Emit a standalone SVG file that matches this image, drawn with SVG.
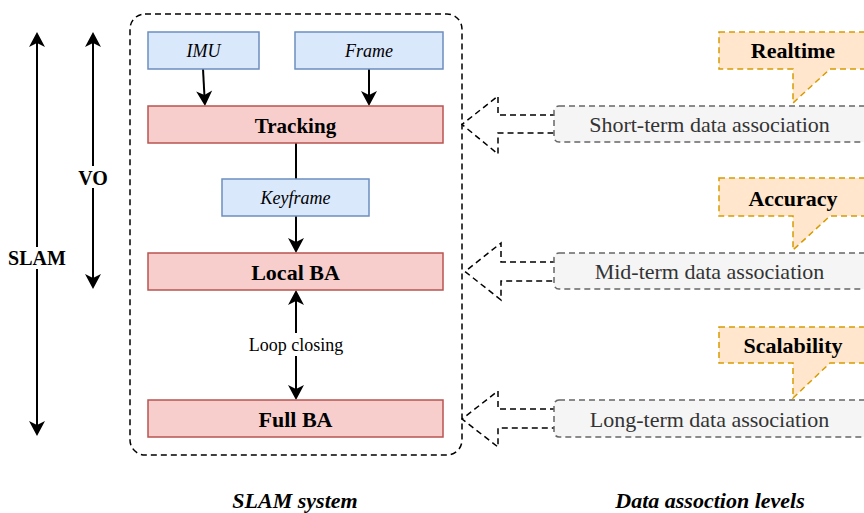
<svg xmlns="http://www.w3.org/2000/svg" width="864" height="513" viewBox="0 0 864 513">
<defs>
<style>
.blue{fill:#dae8fc;stroke:#6c8ebf;stroke-width:1.5}
.red{fill:#f8cecc;stroke:#b85450;stroke-width:1.5}
.gray{fill:#f5f5f5;stroke:#666666;stroke-width:1.5;stroke-dasharray:6 4}
.call{fill:#ffe6cc;stroke:#d79b00;stroke-width:1.5;stroke-dasharray:6 4}
.blk{fill:#ffffff;stroke:#000000;stroke-width:1.5;stroke-dasharray:6 4}
.ln{fill:none;stroke:#000000;stroke-width:2}
.t{font-family:"Liberation Serif","Times New Roman",serif;text-anchor:middle;fill:#000}
.it{font-style:italic;font-size:18px}
.bd{font-weight:bold;font-size:22px}
.gt{font-size:22px;fill:#333333}
.bg{fill:#ffffff;stroke:none}
</style>
<marker id="ah" viewBox="-5 -9 17 18" markerWidth="17" markerHeight="18" refX="0" refY="0" orient="auto-start-reverse" markerUnits="userSpaceOnUse">
<path d="M11,0 L-4,-8 L0,0 L-4,8 Z" fill="#000"/>
</marker>
</defs>

<g id="container">
<rect x="130" y="14" width="332" height="441" rx="15" fill="none" stroke="#000" stroke-width="1.5" stroke-dasharray="6 4"/>
</g>

<g id="connectors">
<line class="ln" x1="37" y1="43" x2="37" y2="425" marker-start="url(#ah)" marker-end="url(#ah)"/>
<line class="ln" x1="93" y1="43" x2="93" y2="278" marker-start="url(#ah)" marker-end="url(#ah)"/>
<line class="ln" x1="203" y1="69" x2="204.4" y2="95" marker-end="url(#ah)"/>
<line class="ln" x1="369" y1="69" x2="369" y2="95" stroke-width="3" marker-end="url(#ah)"/>
<line class="ln" x1="296" y1="143" x2="296" y2="179"/>
<line class="ln" x1="296" y1="216" x2="296" y2="242" marker-end="url(#ah)"/>
<line class="ln" x1="296" y1="301" x2="296" y2="389" marker-start="url(#ah)" marker-end="url(#ah)"/>
<polygon class="blk" points="556,115 498,115 498,96 462,124.5 498,154 498,133 556,133"/>
<polygon class="blk" points="556,262 501,262 501,243 465,271.5 501,300 501,281 556,281"/>
<polygon class="blk" points="556,409 498,409 498,391 462,419 498,447 498,428 556,428"/>
</g>

<g id="slam-label">
<rect class="bg" x="8" y="247" width="58" height="22"/>
<text class="t bd" x="37" y="265" style="font-size:20px">SLAM</text>
</g>
<g id="vo-label">
<rect class="bg" x="78" y="166" width="30" height="22"/>
<text class="t bd" x="93" y="185" style="font-size:20px">VO</text>
</g>

<g id="imu">
<rect class="blue" x="148" y="32" width="111" height="37"/>
<text class="t it" x="203.5" y="57">IMU</text>
</g>
<g id="frame">
<rect class="blue" x="295" y="32" width="148" height="37"/>
<text class="t it" x="369" y="57">Frame</text>
</g>
<g id="tracking">
<rect class="red" x="148" y="106" width="295" height="37"/>
<text class="t bd" x="295.5" y="133" style="font-size:21px">Tracking</text>
</g>
<g id="keyframe">
<rect class="blue" x="222" y="179" width="147" height="37"/>
<text class="t it" x="295.5" y="204">Keyframe</text>
</g>
<g id="local-ba">
<rect class="red" x="148" y="253" width="295" height="37"/>
<text class="t bd" x="295.5" y="280">Local BA</text>
</g>
<g id="loop-label">
<rect class="bg" x="246" y="333" width="100" height="23"/>
<text class="t" x="296" y="351" style="font-size:18px">Loop closing</text>
</g>
<g id="full-ba">
<rect class="red" x="148" y="400" width="295" height="37"/>
<text class="t bd" x="295.5" y="427">Full BA</text>
</g>

<g id="short-term">
<rect class="gray" x="554" y="106" width="320" height="36" rx="5"/>
<text class="t gt" x="709.5" y="132">Short-term data association</text>
</g>
<g id="mid-term">
<rect class="gray" x="554" y="253" width="320" height="36" rx="5"/>
<text class="t gt" x="709.5" y="279">Mid-term data association</text>
</g>
<g id="long-term">
<rect class="gray" x="554" y="400" width="320" height="37" rx="5"/>
<text class="t gt" x="709.5" y="427">Long-term data association</text>
</g>

<g id="realtime">
<path class="call" d="M719,32 H874 V69 H830 L793,103 V69 H719 Z"/>
<text class="t bd" x="793" y="58">Realtime</text>
</g>
<g id="accuracy">
<path class="call" d="M719,178 H874 V216 H830 L793,250 V216 H719 Z"/>
<text class="t bd" x="793" y="206">Accuracy</text>
</g>
<g id="scalability">
<path class="call" d="M719,327 H874 V363 H830 L793,398 V363 H719 Z"/>
<text class="t bd" x="793" y="353">Scalability</text>
</g>

<g id="captions">
<text class="t bd" x="295" y="508" style="font-style:italic">SLAM system</text>
<text class="t bd" x="710" y="508" style="font-style:italic">Data assoction levels</text>
</g>
</svg>
